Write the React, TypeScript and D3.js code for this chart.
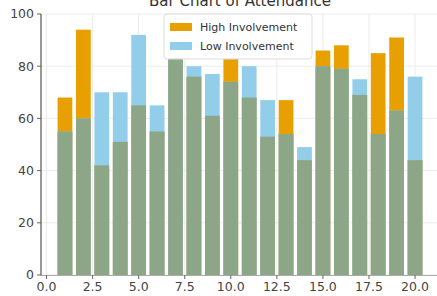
import React from 'react';
import * as d3 from 'd3';

// values
const positions = [1, 2, 3, 4, 5, 6, 7, 8, 9, 10, 11, 12, 13, 14, 15, 16, 17, 18, 19, 20];
const highInvolvement = [68, 94, 42, 51, 65, 55, 83, 76, 61, 83, 68, 53, 67, 44, 86, 88, 69, 85, 91, 44];
const lowInvolvement = [55, 60, 70, 70, 92, 65, 83, 80, 77, 74, 80, 67, 54, 49, 80, 79, 75, 54, 63, 76];
const xTicks = [0, 2.5, 5, 7.5, 10, 12.5, 15, 17.5, 20];
const yTicks = [0, 20, 40, 60, 80, 100];
const seriesNames = ['High Involvement', 'Low Involvement'];

const W = 437;
const H = 296;
const ORANGE = '#e8a000';
const BLUE = '#92cdea';
const BOTH = '#8ea688';
const FONT = 'DejaVu Sans, sans-serif';

const App = () => {
    const x = d3.scaleLinear().domain([-0.3, 21.3]).range([41, 439]);
    const y = d3.scaleLinear().domain([0, 100]).range([275, 14]);
    const barW = x(0.8) - x(0);

    const data = positions.map((p, i) => ({
        p,
        high: highInvolvement[i],
        low: lowInvolvement[i],
    }));

    return (
        <svg width={W} height={H} style={{ position: 'absolute', left: 0, top: 0, background: '#fff' }}>
            {/* title, mostly cut off at top */}
            <text x={240} y={6} textAnchor="middle" fontFamily={FONT} fontSize={15} fill="#333">
                Bar Chart of Attendance
            </text>

            {/* grid */}
            <g stroke="#ececec" strokeWidth={1}>
                {yTicks.map(t => (
                    <line key={'gy' + t} x1={41} x2={W} y1={y(t)} y2={y(t)} />
                ))}
                {xTicks.map(t => (
                    <line key={'gx' + t} x1={x(t)} x2={x(t)} y1={14} y2={275} />
                ))}
            </g>

            {/* bars: taller part in the series colour, shared part in the blended tone */}
            <g>
                {data.map(d => (
                    <g key={d.p}>
                        <rect x={x(d.p) - barW / 2} width={barW} y={y(d.high)} height={y(0) - y(d.high)} fill={ORANGE} />
                        <rect x={x(d.p) - barW / 2} width={barW} y={y(d.low)} height={y(0) - y(d.low)} fill={BLUE} />
                        <rect
                            x={x(d.p) - barW / 2}
                            width={barW}
                            y={y(Math.min(d.high, d.low))}
                            height={y(0) - y(Math.min(d.high, d.low))}
                            fill={BOTH}
                        />
                    </g>
                ))}
            </g>

            {/* spines */}
            <line x1={41} x2={41} y1={14} y2={275.5} stroke="#333" strokeWidth={1} />
            <line x1={41} x2={W} y1={275.5} y2={275.5} stroke="#aaa" strokeWidth={1} />

            {/* y axis */}
            <g fontFamily={FONT} fontSize={12.5} fill="#444">
                {yTicks.map(t => (
                    <g key={'ty' + t}>
                        <line x1={37} x2={41} y1={y(t)} y2={y(t)} stroke="#666" />
                        <text x={34} y={y(t)} dy="0.35em" textAnchor="end">{t}</text>
                    </g>
                ))}
            </g>

            {/* x axis */}
            <g fontFamily={FONT} fontSize={12.5} fill="#444">
                {xTicks.map(t => (
                    <g key={'tx' + t}>
                        <line x1={x(t)} x2={x(t)} y1={275} y2={279} stroke="#666" />
                        <text x={x(t)} y={291} textAnchor="middle">{d3.format('.1f')(t)}</text>
                    </g>
                ))}
            </g>

            {/* legend */}
            <g fontFamily={FONT} fontSize={11} fill="#333">
                <rect x={164} y={14} width={148} height={45} rx={3} fill="#fff" fillOpacity={0.85} stroke="#ddd" />
                {seriesNames.map((name, i) => (
                    <g key={name}>
                        <rect x={170} y={23 + i * 19} width={22} height={8} fill={i === 0 ? ORANGE : BLUE} />
                        <text x={200} y={27 + i * 19} dy="0.35em">{name}</text>
                    </g>
                ))}
            </g>
        </svg>
    );
};

export default App;
